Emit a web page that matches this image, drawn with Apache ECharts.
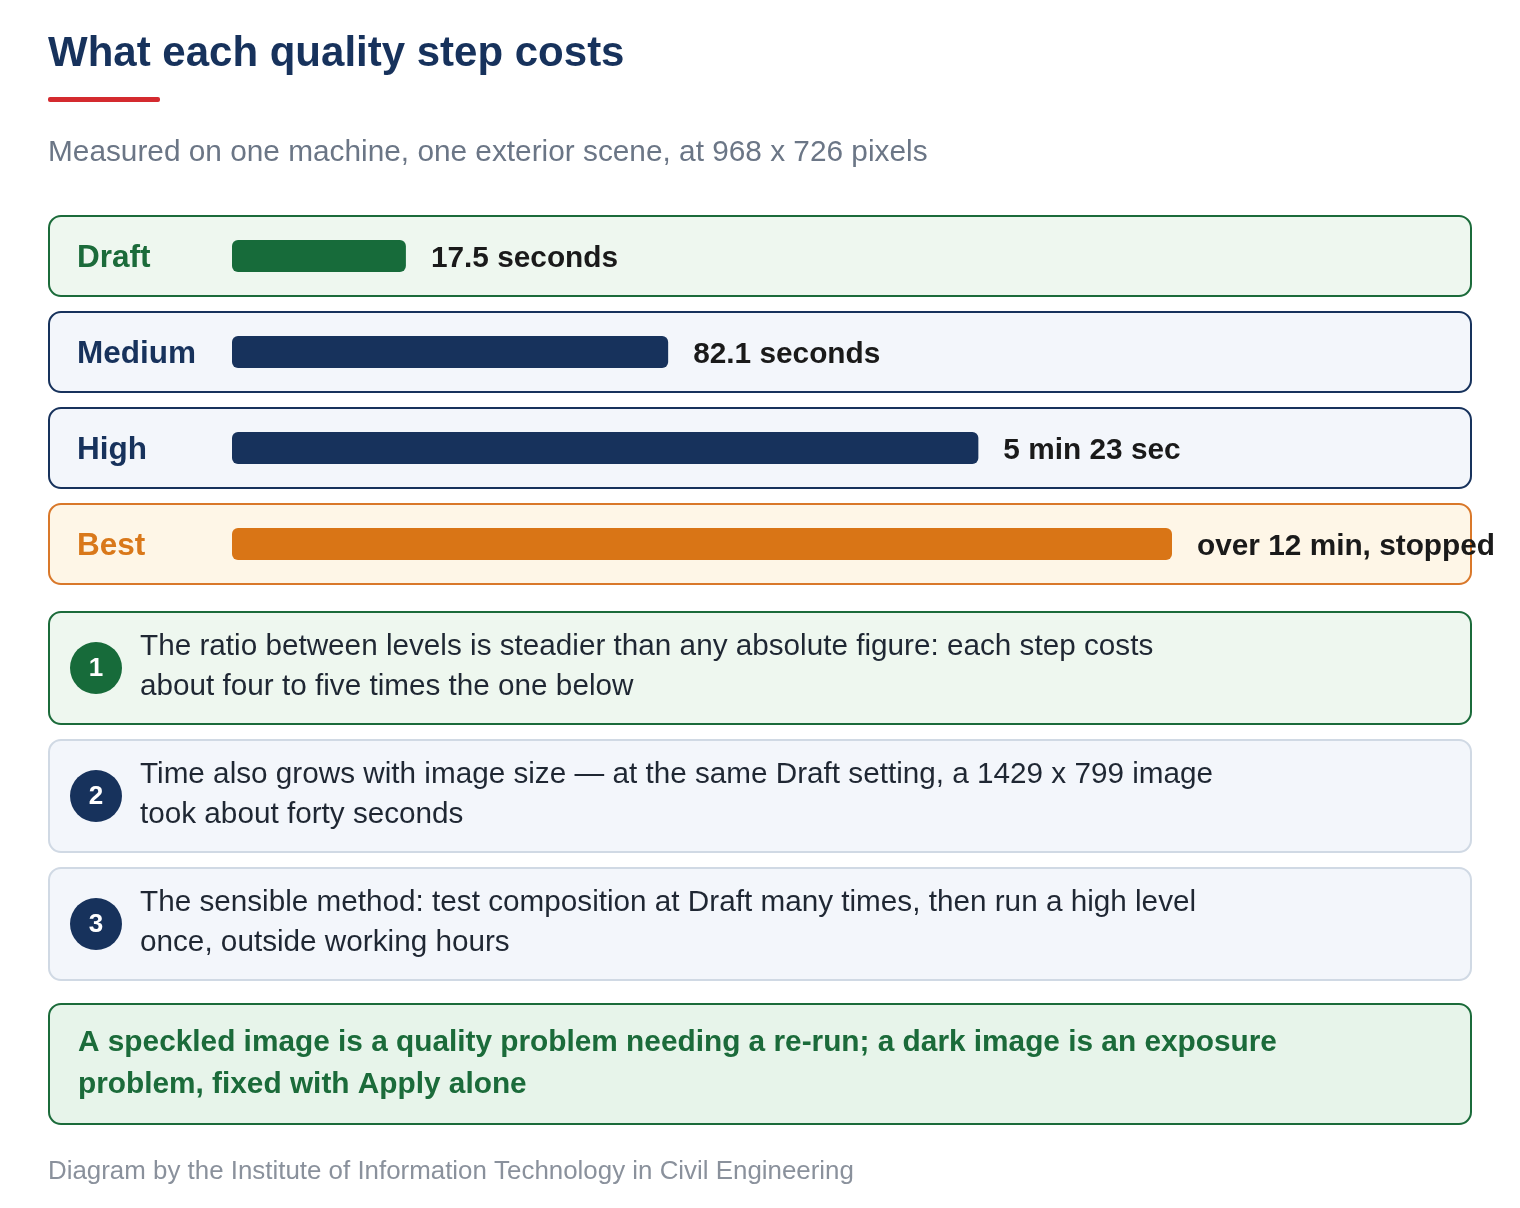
<!DOCTYPE html>
<html><head><meta charset="utf-8">
<script src="https://cdn.jsdelivr.net/npm/echarts@6/dist/echarts.min.js"></script>
<style>html,body{margin:0;padding:0;background:#fff}#c{width:1520px;height:1208px}</style>
</head><body><div id="c"></div>
<script>
const categories = ['Draft', 'Medium', 'High', 'Best'];
const barLengths = [18.5, 46.4, 79.4, 100]; // relative bar length (% of longest)
const timeLabels = ['17.5 seconds', '82.1 seconds', '5 min 23 sec', 'over 12 min, stopped'];
const rowKinds = ['green', 'navy', 'navy', 'orange'];
const notes = [
  ['The ratio between levels is steadier than any absolute figure: each step costs', 'about four to five times the one below'],
  ['Time also grows with image size \u2014 at the same Draft setting, a 1429 x 799 image', 'took about forty seconds'],
  ['The sensible method: test composition at Draft many times, then run a high level', 'once, outside working hours']
];
const conclusion = ['A speckled image is a quality problem needing a re-run; a dark image is an exposure', 'problem, fixed with Apply alone'];
const titleText = 'What each quality step costs';
const subtitleText = 'Measured on one machine, one exterior scene, at 968 x 726 pixels';
const footerText = 'Diagram by the Institute of Information Technology in Civil Engineering';

const pal = {
  green: {stroke:'#1b6b3a', fill:'#eef7ef', text:'#1b6b3a', bar:'#176b3a'},
  navy: {stroke:'#17325c', fill:'#f3f6fb', text:'#17325c', bar:'#17325c'},
  orange:{stroke:'#d9782a', fill:'#fef6e7', text:'#d9781a', bar:'#d97516'}
};
const F = '"Liberation Sans", Arial, sans-serif';
const g = [];
g.push({type:'text', x:48, y:54, style:{text:titleText, font:'bold 42px '+F, fill:'#17325c', textVerticalAlign:'middle'}});
g.push({type:'rect', shape:{x:48,y:97,width:112,height:5,r:2}, style:{fill:'#d42a2f'}});
g.push({type:'text', x:48, y:153, style:{text:subtitleText, font:'29.8px '+F, fill:'#6b7686', textVerticalAlign:'middle'}});
categories.forEach((c,i)=>{
  const p = pal[rowKinds[i]], y = 216 + i*96;
  g.push({type:'rect', z:-10, shape:{x:49,y:y,width:1422,height:80,r:12}, style:{fill:p.fill, stroke:p.stroke, lineWidth:2}});
  g.push({type:'text', x:77, y:y+42, style:{text:c, font:'bold 31.5px '+F, fill:p.text, textVerticalAlign:'middle'}});
});
notes.forEach((n,i)=>{
  const y = 612 + i*128, first = i===0;
  g.push({type:'rect', shape:{x:49,y:y,width:1422,height:112,r:12}, style:{fill: first?'#eef7ef':'#f3f6fb', stroke: first?'#1b6b3a':'#d0d9e4', lineWidth:2}});
  g.push({type:'circle', shape:{cx:96,cy:y+56,r:26}, style:{fill: first?'#176b3a':'#17325c'}});
  g.push({type:'text', x:96, y:y+57, style:{text:String(i+1), font:'bold 26px '+F, fill:'#fff', textAlign:'center', textVerticalAlign:'middle'}});
  n.forEach((line,k)=>g.push({type:'text', x:140, y:y+35+k*40, style:{text:line, font:'29.7px '+F, fill:'#1f2733', textVerticalAlign:'middle'}}));
});
g.push({type:'rect', shape:{x:49,y:1004,width:1422,height:120,r:12}, style:{fill:'#e7f4ea', stroke:'#1b6b3a', lineWidth:2}});
conclusion.forEach((line,k)=>g.push({type:'text', x:78, y:1043+k*42, style:{text:line, font:'bold 29.8px '+F, fill:'#1b6b3a', textVerticalAlign:'middle'}}));
g.push({type:'text', x:48, y:1172, style:{text:footerText, font:'25.9px '+F, fill:'#8a919c', textVerticalAlign:'middle'}});

const chart = echarts.init(document.getElementById('c'), null, {renderer:'canvas'});
chart.setOption({
  animation:false,
  graphic:{elements:g},
  grid:{left:232, top:208, width:940, height:384},
  xAxis:{type:'value', min:0, max:100, show:false},
  yAxis:{type:'category', data:categories, inverse:true, show:false},
  series:[{type:'bar', z:10, barWidth:32,
    data: barLengths.map((v,i)=>({value:v, itemStyle:{color:pal[rowKinds[i]].bar}})),
    itemStyle:{borderRadius:6},
    label:{show:true, position:'right', distance:25, offset:[0,3], fontFamily:F, fontWeight:'bold', fontSize:29.8, color:'#1a1a1a',
      formatter:p=>timeLabels[p.dataIndex]}
  }]
});
</script></body></html>
